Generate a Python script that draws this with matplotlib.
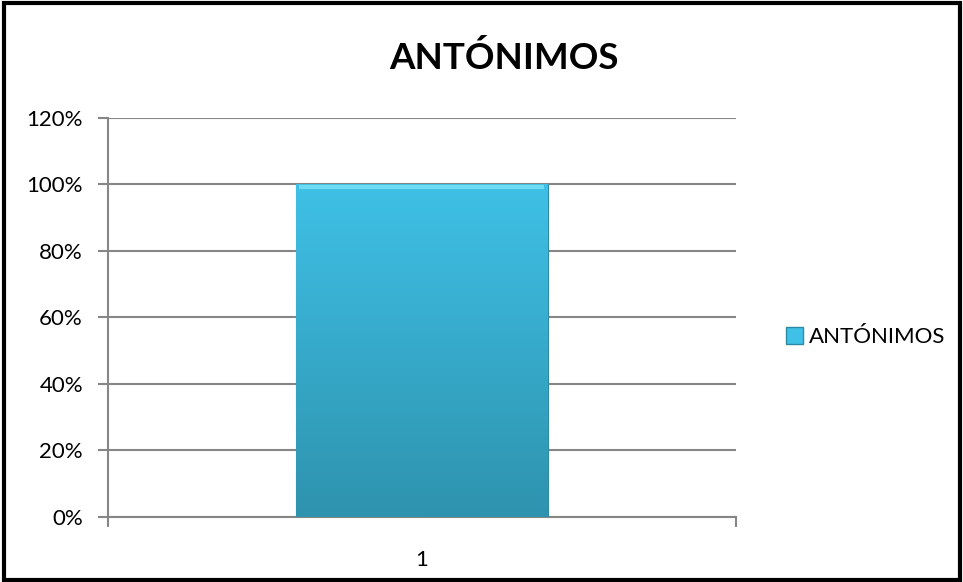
import numpy as np
import matplotlib.pyplot as plt
from matplotlib.patches import Rectangle
from matplotlib.colors import LinearSegmentedColormap

plt.rcParams['font.family'] = ['Lato', 'DejaVu Sans']

categories = ["1"]
values = [1.0]
series_name = "ANTÓNIMOS"
title = "ANTÓNIMOS"
yticks = [0, 0.2, 0.4, 0.6, 0.8, 1.0, 1.2]
ytick_labels = ["0%", "20%", "40%", "60%", "80%", "100%", "120%"]

grid_col = "#868686"
bar_top = "#3fc0e6"
bar_bot = "#2e93ae"

fig = plt.figure(figsize=(9.63, 5.82), dpi=100)
ax = fig.add_axes([0.1121, 0.1117, 0.6521, 0.6856])

x = np.arange(1, len(categories) + 1)
bars = ax.bar(x, values, width=0.4, color=bar_top, edgecolor="#2c8aa5", linewidth=0.8, zorder=3)

# vertical gradient inside each bar, like the original
cmap = LinearSegmentedColormap.from_list("bar", [bar_bot, bar_top])
grad = np.linspace(0, 1, 256).reshape(-1, 1)
for b in bars:
    x0, w, h = b.get_x(), b.get_width(), b.get_height()
    im = ax.imshow(grad, cmap=cmap, origin="lower", aspect="auto",
                   extent=[x0, x0 + w, 0, h], zorder=3)
    im.set_clip_path(b)
    # soft bevel at the top
    ax.plot([x0 + 0.005, x0 + w - 0.005], [h - 0.008, h - 0.008], color="#6fdcf3", lw=3, zorder=4,
            solid_capstyle="butt")

ax.set_xlim(0.5, len(categories) + 0.5)
ax.set_ylim(0, 1.2)
ax.set_yticks(yticks)
ax.set_yticklabels(ytick_labels, fontsize=16)
ax.set_xticks(x)
ax.set_xticklabels(categories, fontsize=16)
ax.set_xticks([0.5, 1.5], minor=True)
ax.tick_params(axis="x", which="major", length=0, pad=24)
ax.tick_params(axis="x", which="minor", length=7, color=grid_col, width=1.5, direction="out")
ax.tick_params(axis="y", length=7, color=grid_col, width=1.5, direction="out", pad=11)

ax.yaxis.grid(True, color=grid_col, linewidth=1.5, zorder=0)
ax.set_axisbelow(True)
for s in ["top", "right"]:
    ax.spines[s].set_visible(False)
for s in ["left", "bottom"]:
    ax.spines[s].set_color(grid_col)
    ax.spines[s].set_linewidth(1.5)

fig.text(0.523, 0.90, title, ha="center", va="center", fontsize=26.5, fontweight="bold")

handle = Rectangle((0, 0), 1, 1, facecolor=bar_top, edgecolor="#2c8aa5")
fig.legend([handle], [series_name], loc="center left", bbox_to_anchor=(0.795, 0.421),
           frameon=False, fontsize=16, handlelength=0.8, handleheight=0.8, handletextpad=0.25)

# black frame around the whole chart
fig.patches.append(Rectangle((0.004, 0.004), 0.993, 0.991, transform=fig.transFigure,
                             fill=False, edgecolor="black", linewidth=3))

fig.savefig("out.png", dpi=100)
